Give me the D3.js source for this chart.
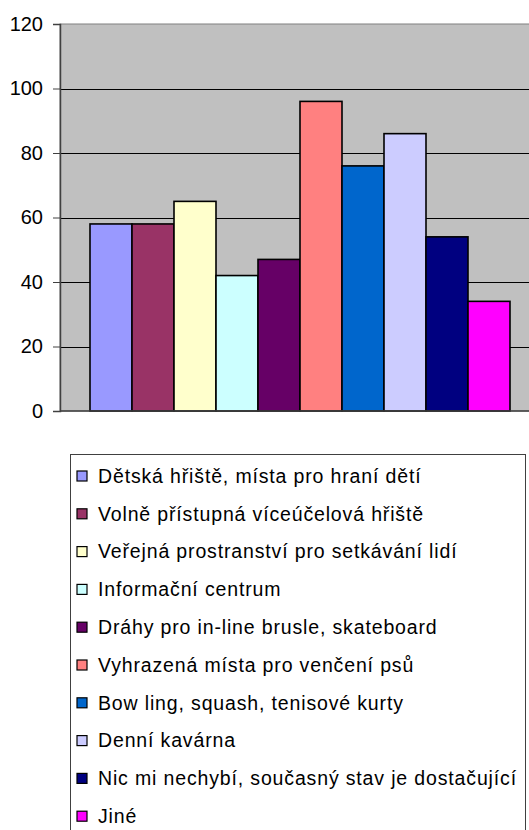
<!DOCTYPE html>
<html>
<head>
<meta charset="utf-8">
<script src="https://cdn.jsdelivr.net/npm/d3@7"></script>
<style>
  body { margin: 0; background: #fff; }
  svg { display: block; font-family: "Liberation Sans", Arial, sans-serif; }
</style>
</head>
<body>
<script>
var categories = [
  'Dětská hřiště, místa pro hraní dětí',
  'Volně přístupná víceúčelová hřiště',
  'Veřejná prostranství pro setkávání lidí',
  'Informační centrum',
  'Dráhy pro in-line brusle, skateboard',
  'Vyhrazená místa pro venčení psů',
  'Bow ling, squash, tenisové kurty',
  'Denní kavárna',
  'Nic mi nechybí, současný stav je dostačující',
  'Jiné'
];
var values = [58, 58, 65, 42, 47, 96, 76, 86, 54, 34];
var colors = ['#9999FF', '#993366', '#FFFFCC', '#CCFFFF', '#660066',
              '#FF8080', '#0066CC', '#CCCCFF', '#000080', '#FF00FF'];
var yTicks = [0, 20, 40, 60, 80, 100, 120];

var FONT = '"Liberation Sans", Arial, sans-serif';
var width = 529, height = 830;
var plot = { left: 60, right: 540, top: 24, bottom: 411 };

var svg = d3.select('body').append('svg')
    .attr('width', width)
    .attr('height', height);

var y = d3.scaleLinear()
    .domain([0, 120])
    .range([plot.bottom, plot.top]);

// one category, ten series side by side
var x0 = d3.scaleBand()
    .domain(['all'])
    .range([plot.left, plot.right])
    .paddingInner(0)
    .paddingOuter(30 / 420);
var x1 = d3.scaleBand()
    .domain(d3.range(categories.length))
    .range([0, x0.bandwidth()]);

svg.append('rect')
    .attr('x', plot.left)
    .attr('y', plot.top)
    .attr('width', plot.right - plot.left)
    .attr('height', plot.bottom - plot.top)
    .attr('fill', '#C0C0C0')
    .attr('stroke', '#808080')
    .attr('stroke-width', 1);

// gridlines
svg.append('g')
    .attr('transform', 'translate(' + plot.left + ',0)')
    .call(d3.axisLeft(y).tickValues(yTicks.slice(1, -1)).tickSize(-(plot.right - plot.left)).tickFormat(''))
    .call(function(g) {
      g.select('.domain').remove();
      g.selectAll('line').attr('stroke', '#000').attr('shape-rendering', 'crispEdges');
    });

svg.selectAll('rect.bar')
    .data(values)
    .enter()
    .append('rect')
    .attr('class', 'bar')
    .attr('x', function(d, i) { return x0('all') + x1(i); })
    .attr('y', function(d) { return y(d); })
    .attr('width', x1.bandwidth())
    .attr('height', function(d) { return y(0) - y(d); })
    .attr('fill', function(d, i) { return colors[i]; })
    .attr('stroke', '#000')
    .attr('stroke-width', 1.6);

// y axis
svg.append('g')
    .attr('transform', 'translate(' + plot.left + ',0)')
    .call(d3.axisLeft(y).tickValues(yTicks).tickSize(7).tickPadding(10))
    .call(function(g) {
      g.attr('font-family', FONT);
      g.select('.domain').attr('stroke', '#404040').attr('stroke-width', 1.5);
      g.selectAll('line').attr('stroke', '#404040');
      g.selectAll('text')
          .attr('font-size', 20)
          .attr('fill', '#000');
    });

// bottom axis line
svg.append('line')
    .attr('x1', plot.left)
    .attr('x2', plot.right)
    .attr('y1', y(0))
    .attr('y2', y(0))
    .attr('stroke', '#404040')
    .attr('stroke-width', 1.5);

// legend
var legend = { left: 70, top: 454, right: 525, rowH: 37.8, firstRow: 476 };

svg.append('rect')
    .attr('x', legend.left + 0.5)
    .attr('y', legend.top + 0.5)
    .attr('width', legend.right - legend.left)
    .attr('height', height)
    .attr('fill', '#fff')
    .attr('stroke', '#404040')
    .attr('stroke-width', 1);

var rows = svg.selectAll('g.legend-row')
    .data(categories)
    .enter()
    .append('g')
    .attr('class', 'legend-row')
    .attr('font-family', FONT)
    .attr('transform', function(d, i) { return 'translate(0,' + (legend.firstRow + i * legend.rowH) + ')'; });

rows.append('rect')
    .attr('x', 77)
    .attr('y', -5)
    .attr('width', 10)
    .attr('height', 10)
    .attr('fill', function(d, i) { return colors[i]; })
    .attr('stroke', '#000')
    .attr('stroke-width', 1.2);

rows.append('text')
    .attr('x', 98)
    .attr('y', 0)
    .attr('dy', '0.35em')
    .attr('font-size', 19.5)
    .attr('letter-spacing', 0.85)
    .attr('fill', '#000')
    .text(function(d) { return d; });
</script>
</body>
</html>
